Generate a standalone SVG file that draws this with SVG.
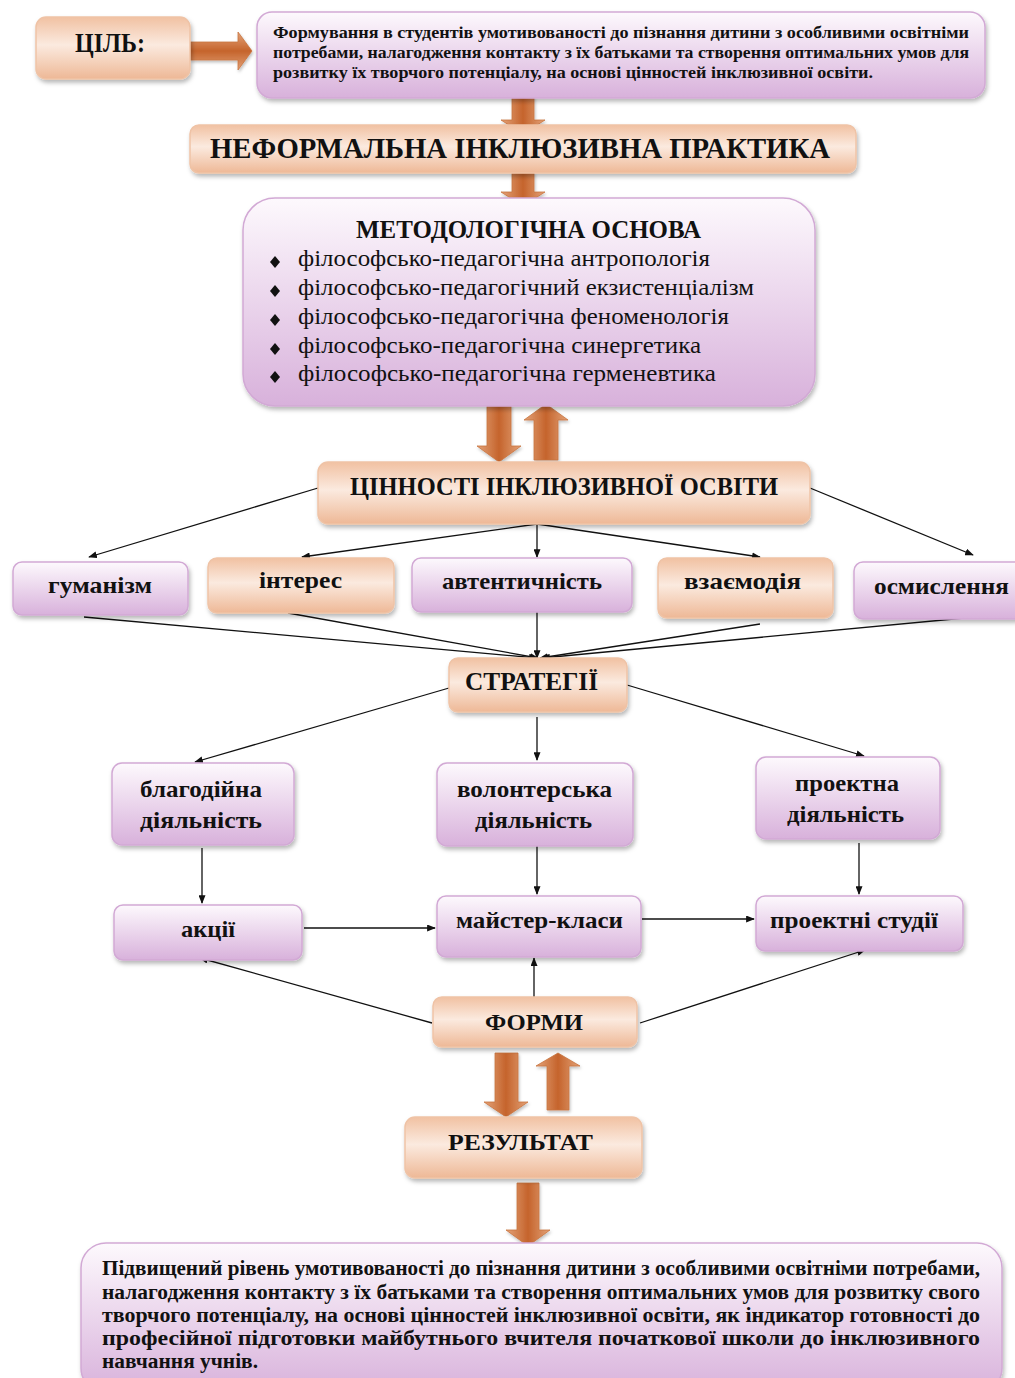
<svg xmlns="http://www.w3.org/2000/svg" width="1015" height="1378" viewBox="0 0 1015 1378">
<style>
.t{font-family:"Liberation Serif","Times New Roman",serif;fill:#111;}
.b{font-weight:bold;}
.pu{fill:url(#gPurple);stroke:#d2a9d5;stroke-width:1.5;filter:url(#sh);}
.pe{fill:url(#gPeach);stroke:#efc3a6;stroke-width:1.5;filter:url(#sh);}
.ba{fill:url(#gArrow);stroke:#c8743f;stroke-width:0.8;filter:url(#sh2);}
.ln{stroke:#111;stroke-width:1.3;fill:none;marker-end:url(#ah);}
</style>
<defs>
<linearGradient id="gPurple" x1="0" y1="0" x2="0" y2="1">
<stop offset="0" stop-color="#fdf9fd"/>
<stop offset="1" stop-color="#d8b1db"/>
</linearGradient>
<linearGradient id="gPeach" x1="0" y1="0" x2="0" y2="1">
<stop offset="0" stop-color="#f1c1a2"/>
<stop offset="0.45" stop-color="#fbeadf"/>
<stop offset="1" stop-color="#eeb896"/>
</linearGradient>
<linearGradient id="gArrow" x1="0" y1="0" x2="1" y2="0">
<stop offset="0" stop-color="#e3a278"/>
<stop offset="0.5" stop-color="#c5642c"/>
<stop offset="1" stop-color="#e3a278"/>
</linearGradient>
<linearGradient id="gArrowH" x1="0" y1="0" x2="0" y2="1">
<stop offset="0" stop-color="#e3a278"/>
<stop offset="0.5" stop-color="#c5642c"/>
<stop offset="1" stop-color="#e3a278"/>
</linearGradient>
<filter id="sh" x="-10%" y="-10%" width="125%" height="135%">
<feDropShadow dx="1.5" dy="3" stdDeviation="2" flood-color="#000" flood-opacity="0.28"/>
</filter>
<filter id="sh2" x="-20%" y="-20%" width="150%" height="150%">
<feDropShadow dx="1" dy="2" stdDeviation="1.5" flood-color="#000" flood-opacity="0.25"/>
</filter>
<marker id="ah" viewBox="0 0 10 8" refX="9" refY="4" markerWidth="9" markerHeight="7" markerUnits="userSpaceOnUse" orient="auto">
<path d="M0,0 L10,4 L0,8 z" fill="#111"/>
</marker>
</defs>

<!-- block arrows -->
<g id="block-arrows">
<polygon style="fill:url(#gArrowH);stroke:#c8743f;stroke-width:0.8;filter:url(#sh2)" points="190,42 238,42 238,32 252,51 238,70 238,60 190,60"/>
<polygon class="ba" points="512,96 534,96 534,120 545,120 523,134 501,120 512,120"/>
<polygon class="ba" points="512,172 534,172 534,192 545,192 523,206 501,192 512,192"/>
<polygon class="ba" points="487,405 511,405 511,446 521,446 499,462 477,446 487,446"/>
<polygon class="ba" points="534,460 558,460 558,420 568,420 546,404 524,420 534,420"/>
<polygon class="ba" points="495,1053 518,1053 518,1102 528,1102 506,1117 484,1102 495,1102"/>
<polygon class="ba" points="547,1110 569,1110 569,1066 580,1066 558,1053 536,1066 547,1066"/>
<polygon class="ba" points="517,1183 539,1183 539,1230 550,1230 528,1246 506,1230 517,1230"/>
</g>

<!-- connectors -->
<g id="connectors">
<line class="ln" x1="318" y1="488" x2="89" y2="557"/>
<line class="ln" x1="537" y1="524" x2="302" y2="557"/>
<line class="ln" x1="537" y1="524" x2="537" y2="557"/>
<line class="ln" x1="537" y1="524" x2="760" y2="557"/>
<line class="ln" x1="810" y1="488" x2="973" y2="555"/>
<line class="ln" x1="84" y1="617" x2="537" y2="658"/>
<line class="ln" x1="288" y1="613" x2="538" y2="658"/>
<line class="ln" x1="537" y1="612" x2="537" y2="658"/>
<line class="ln" x1="760" y1="624" x2="540" y2="658"/>
<line class="ln" x1="975" y1="617" x2="542" y2="658"/>
<line class="ln" x1="449" y1="688" x2="195" y2="762"/>
<line class="ln" x1="537" y1="717" x2="537" y2="760"/>
<line class="ln" x1="627" y1="685" x2="864" y2="756"/>
<line class="ln" x1="202" y1="848" x2="202" y2="903"/>
<line class="ln" x1="537" y1="845" x2="537" y2="894"/>
<line class="ln" x1="859" y1="843" x2="859" y2="894"/>
<line class="ln" x1="304" y1="928" x2="435" y2="928"/>
<line class="ln" x1="642" y1="919" x2="754" y2="919"/>
<line class="ln" x1="432" y1="1023" x2="200" y2="958"/>
<line class="ln" x1="534" y1="997" x2="534" y2="958"/>
<line class="ln" x1="640" y1="1023" x2="865" y2="950"/>
</g>

<g id="goal-label">
<rect class="pe" x="36" y="17" width="154" height="62" rx="10"/>
<text class="t b" x="75" y="52" font-size="27" textLength="70" lengthAdjust="spacingAndGlyphs">ЦІЛЬ:</text>
</g>

<g id="goal">
<rect class="pu" x="257" y="12" width="728" height="86" rx="15"/>
<text class="t b" x="273" y="38" font-size="16" textLength="696" lengthAdjust="spacingAndGlyphs">Формування в студентів умотивованості до пізнання дитини з особливими освітніми</text>
<text class="t b" x="273" y="58" font-size="16" textLength="696" lengthAdjust="spacingAndGlyphs">потребами, налагодження контакту з їх батьками та створення оптимальних умов для</text>
<text class="t b" x="273" y="78" font-size="16" textLength="600" lengthAdjust="spacingAndGlyphs">розвитку їх творчого потенціалу, на основі  цінностей інклюзивної освіти.</text>
</g>

<g id="practice">
<rect class="pe" x="190" y="125" width="666" height="48" rx="9"/>
<text class="t b" x="210" y="158" font-size="29" textLength="620" lengthAdjust="spacingAndGlyphs">НЕФОРМАЛЬНА ІНКЛЮЗИВНА ПРАКТИКА</text>
</g>

<g id="methodology">
<rect class="pu" x="243" y="198" width="572" height="208" rx="32"/>
<text class="t b" x="356" y="238" font-size="25" textLength="345" lengthAdjust="spacingAndGlyphs">МЕТОДОЛОГІЧНА ОСНОВА</text>
<polygon fill="#111" points="275,256 280,262 275,268 270,262"/>
<polygon fill="#111" points="275,285 280,291 275,297 270,291"/>
<polygon fill="#111" points="275,314 280,320 275,326 270,320"/>
<polygon fill="#111" points="275,343 280,349 275,355 270,349"/>
<polygon fill="#111" points="275,371 280,377 275,383 270,377"/>
<text class="t" x="298" y="266" font-size="23" textLength="412" lengthAdjust="spacingAndGlyphs">філософсько-педагогічна антропологія</text>
<text class="t" x="298" y="295" font-size="23" textLength="456" lengthAdjust="spacingAndGlyphs">філософсько-педагогічний екзистенціалізм</text>
<text class="t" x="298" y="324" font-size="23" textLength="431" lengthAdjust="spacingAndGlyphs">філософсько-педагогічна феноменологія</text>
<text class="t" x="298" y="353" font-size="23" textLength="403" lengthAdjust="spacingAndGlyphs">філософсько-педагогічна синергетика</text>
<text class="t" x="298" y="381" font-size="23" textLength="418" lengthAdjust="spacingAndGlyphs">філософсько-педагогічна герменевтика</text>
</g>

<g id="values">
<rect class="pe" x="318" y="462" width="492" height="62" rx="10"/>
<text class="t b" x="350" y="495" font-size="26" textLength="428" lengthAdjust="spacingAndGlyphs">ЦІННОСТІ ІНКЛЮЗИВНОЇ ОСВІТИ</text>
</g>

<g id="humanism">
<rect class="pu" x="13" y="562" width="175" height="53" rx="9"/>
<text class="t b" x="48" y="593" font-size="24" textLength="104" lengthAdjust="spacingAndGlyphs">гуманізм</text>
</g>
<g id="interest">
<rect class="pe" x="208" y="558" width="186" height="55" rx="9"/>
<text class="t b" x="259" y="588" font-size="24" textLength="83" lengthAdjust="spacingAndGlyphs">інтерес</text>
</g>
<g id="authenticity">
<rect class="pu" x="412" y="558" width="220" height="54" rx="9"/>
<text class="t b" x="442" y="589" font-size="24" textLength="160" lengthAdjust="spacingAndGlyphs">автентичність</text>
</g>
<g id="interaction">
<rect class="pe" x="658" y="558" width="175" height="60" rx="9"/>
<text class="t b" x="684" y="589" font-size="24" textLength="117" lengthAdjust="spacingAndGlyphs">взаємодія</text>
</g>
<g id="comprehension">
<rect class="pu" x="854" y="562" width="170" height="57" rx="9"/>
<text class="t b" x="874" y="594" font-size="24" textLength="135" lengthAdjust="spacingAndGlyphs">осмислення</text>
</g>

<g id="strategies">
<rect class="pe" x="449" y="658" width="178" height="54" rx="9"/>
<text class="t b" x="465" y="690" font-size="25" textLength="133" lengthAdjust="spacingAndGlyphs">СТРАТЕГІЇ</text>
</g>

<g id="charity">
<rect class="pu" x="112" y="763" width="182" height="82" rx="10"/>
<text class="t b" x="140" y="797" font-size="24" textLength="122" lengthAdjust="spacingAndGlyphs">благодійна</text>
<text class="t b" x="140" y="828" font-size="24" textLength="122" lengthAdjust="spacingAndGlyphs">діяльність</text>
</g>
<g id="volunteer">
<rect class="pu" x="437" y="763" width="196" height="83" rx="10"/>
<text class="t b" x="457" y="797" font-size="24" textLength="155" lengthAdjust="spacingAndGlyphs">волонтерська</text>
<text class="t b" x="475" y="828" font-size="24" textLength="117" lengthAdjust="spacingAndGlyphs">діяльність</text>
</g>
<g id="project">
<rect class="pu" x="756" y="757" width="184" height="82" rx="10"/>
<text class="t b" x="795" y="791" font-size="24" textLength="104" lengthAdjust="spacingAndGlyphs">проектна</text>
<text class="t b" x="787" y="822" font-size="24" textLength="117" lengthAdjust="spacingAndGlyphs">діяльність</text>
</g>

<g id="actions">
<rect class="pu" x="114" y="905" width="188" height="55" rx="9"/>
<text class="t b" x="181" y="937" font-size="24" textLength="54" lengthAdjust="spacingAndGlyphs">акції</text>
</g>
<g id="masterclasses">
<rect class="pu" x="437" y="896" width="204" height="61" rx="9"/>
<text class="t b" x="456" y="928" font-size="24" textLength="167" lengthAdjust="spacingAndGlyphs">майстер-класи</text>
</g>
<g id="studios">
<rect class="pu" x="756" y="896" width="207" height="55" rx="9"/>
<text class="t b" x="770" y="928" font-size="24" textLength="168" lengthAdjust="spacingAndGlyphs">проектні студії</text>
</g>

<g id="forms">
<rect class="pe" x="433" y="997" width="204" height="50" rx="9"/>
<text class="t b" x="485" y="1030" font-size="24" textLength="98" lengthAdjust="spacingAndGlyphs">ФОРМИ</text>
</g>

<g id="result">
<rect class="pe" x="405" y="1117" width="237" height="61" rx="10"/>
<text class="t b" x="448" y="1150" font-size="24" textLength="145" lengthAdjust="spacingAndGlyphs">РЕЗУЛЬТАТ</text>
</g>

<g id="outcome">
<rect class="pu" x="81" y="1243" width="921" height="150" rx="25"/>
<text class="t b" x="102" y="1275" font-size="20" textLength="878" lengthAdjust="spacingAndGlyphs">Підвищений рівень умотивованості до пізнання дитини з особливими освітніми потребами,</text>
<text class="t b" x="102" y="1299" font-size="20" textLength="878" lengthAdjust="spacingAndGlyphs">налагодження контакту з їх батьками та створення оптимальних умов для розвитку свого</text>
<text class="t b" x="102" y="1322" font-size="20" textLength="878" lengthAdjust="spacingAndGlyphs">творчого потенціалу, на основі цінностей інклюзивної освіти, як індикатор готовності до</text>
<text class="t b" x="102" y="1345" font-size="20" textLength="878" lengthAdjust="spacingAndGlyphs">професійної підготовки майбутнього вчителя початкової школи до інклюзивного</text>
<text class="t b" x="102" y="1368" font-size="20" textLength="156" lengthAdjust="spacingAndGlyphs">навчання учнів.</text>
</g>
</svg>
